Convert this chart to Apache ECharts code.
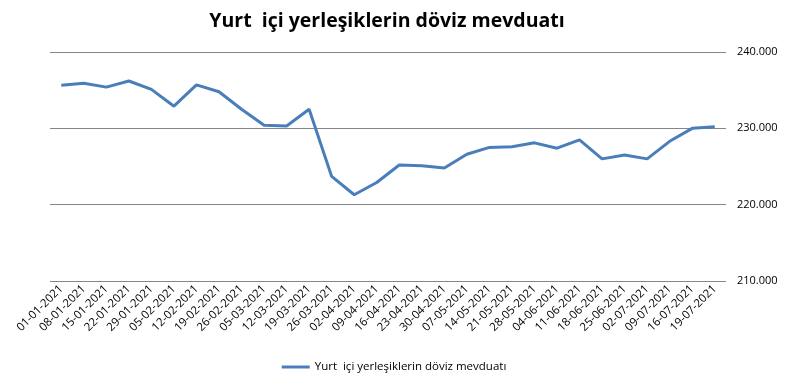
<!DOCTYPE html>
<html><head><meta charset="utf-8">
<script src="https://cdn.jsdelivr.net/npm/echarts@6/dist/echarts.min.js"></script>
<style>html,body{margin:0;padding:0;background:#fff}#c{width:788px;height:380px}</style>
</head><body><div id="c"></div>
<script>
const categories = ["01-01-2021","08-01-2021","15-01-2021","22-01-2021","29-01-2021","05-02-2021","12-02-2021","19-02-2021","26-02-2021","05-03-2021","12-03-2021","19-03-2021","26-03-2021","02-04-2021","09-04-2021","16-04-2021","23-04-2021","30-04-2021","07-05-2021","14-05-2021","21-05-2021","28-05-2021","04-06-2021","11-06-2021","18-06-2021","25-06-2021","02-07-2021","09-07-2021","16-07-2021","19-07-2021"];
const seriesName = "Yurt  içi yerleşiklerin döviz mevduatı";
const values = [235640,235900,235400,236200,235100,232900,235700,234800,232500,230400,230300,232500,223700,221300,222900,225200,225100,224800,226600,227500,227600,228100,227400,228500,226000,226500,226000,228300,230000,230200];
const yTicks = {min:210000, max:240000, interval:10000};
const titleText = "Yurt  içi yerleşiklerin döviz mevduatı";

function fmt(v){return String(v).replace(/\B(?=(\d{3})+(?!\d))/g,'.');}
const chart = echarts.init(document.getElementById('c'));
chart.setOption({
  animation:false,
  backgroundColor:'#fff',
  title:{text:titleText,left:382,textAlign:'center',top:6,textStyle:{fontFamily:'Open Sans',fontWeight:'bold',fontSize:19.5,color:'#000'}},
  legend:{bottom:2,left:'center',itemWidth:28,itemHeight:3,itemGap:3,icon:'rect',textStyle:{fontFamily:'Open Sans',fontSize:11.5,color:'#000'},data:[seriesName]},
  grid:{left:50,right:62,top:52,bottom:99,containLabel:false},
  xAxis:{type:'category',data:categories,boundaryGap:true,
    axisLine:{show:false},axisTick:{show:false},
    axisLabel:{rotate:45,interval:0,fontFamily:'Open Sans',fontSize:11.5,color:'#000',margin:6}},
  yAxis:{type:'value',position:'right',min:yTicks.min,max:yTicks.max,interval:yTicks.interval,
    axisLine:{show:false},axisTick:{show:false},
    splitLine:{lineStyle:{color:'#868686',width:1}},
    axisLabel:{formatter:fmt,fontFamily:'Open Sans',fontSize:11,color:'#000',margin:11}},
  series:[{name:seriesName,type:'line',data:values,symbol:'none',lineStyle:{color:'#4A7EBB',width:3},itemStyle:{color:'#4A7EBB'}}]
});
</script></body></html>
